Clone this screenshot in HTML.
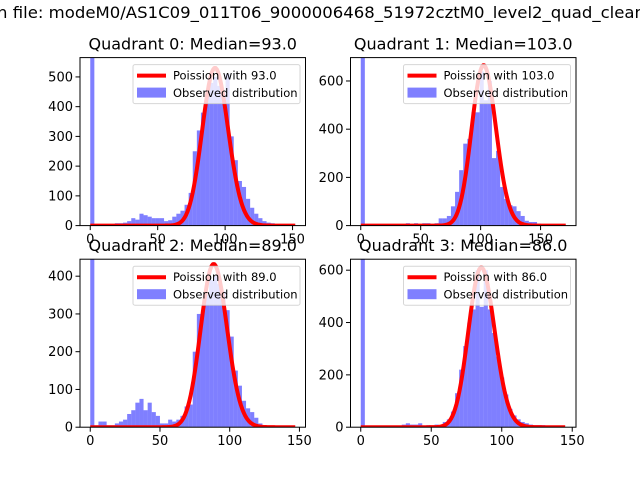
<!DOCTYPE html>
<html><head><meta charset="utf-8"><style>
html,body{margin:0;padding:0;background:#fff;}
svg{display:block;font-family:"DejaVu Sans","Liberation Sans",sans-serif;}
</style></head><body>
<svg id="fig" width="640" height="480" viewBox="0 0 640 480">
<text x="-3" y="18" font-size="16" textLength="648" lengthAdjust="spacingAndGlyphs" fill="#000">n file: modeM0/AS1C09_011T06_9000006468_51972cztM0_level2_quad_clean</text>
</svg>
<script>
// ---- data ----
const titles = ["Quadrant 0: Median=93.0","Quadrant 1: Median=103.0","Quadrant 2: Median=89.0","Quadrant 3: Median=86.0"];
const medians = [93.0, 103.0, 89.0, 86.0];
const maxCounts = [152, 171, 147, 145.4];
const yMaxes = [565, 697, 445, 642];
const poissonPeaks = [530, 665, 432, 610];
const xTicks = [0, 50, 100, 150];
const yTicks0 = [0, 100, 200, 300, 400, 500];
const yTicks1 = [0, 200, 400, 600];
const yTicks2 = [0, 100, 200, 300, 400];
const yTicks3 = [0, 200, 400, 600];
const hist0 = [1200,5,5,5,3,5,8,8,10,15,25,20,40,35,30,25,25,25,15,18,30,40,50,70,110,250,320,380,440,480,500,470,440,510,300,220,150,130,90,60,40,25,15,10,8,5,3,2,1,1];
const hist1 = [1500,1,1,1,1,1,1,1,1,1,2,10,5,10,5,10,10,5,10,30,30,40,80,140,230,340,360,470,470,640,520,600,280,310,160,110,85,80,60,40,20,15,15,8,5,5,3,2,1,1];
const hist2 = [1200,5,15,15,5,5,10,15,20,35,45,65,75,45,65,40,30,10,10,20,15,20,30,55,60,200,300,310,350,390,400,380,360,310,240,150,110,70,50,40,25,10,5,3,2,1,1,1,0,1];
const hist3 = [1500,1,0,1,0,1,0,1,0,1,10,15,10,10,15,2,8,3,10,8,20,30,60,130,220,310,400,450,600,460,600,450,360,270,190,125,70,45,30,20,15,10,8,8,8,3,2,1,1,1];
const hists = [hist0, hist1, hist2, hist3];
const yTickSets = [yTicks0, yTicks1, yTicks2, yTicks3];

const NS = "http://www.w3.org/2000/svg";
const svg = document.getElementById("fig");
function mk(tag, attrs, parent){
  const e = document.createElementNS(NS, tag);
  for (const k in attrs) e.setAttribute(k, attrs[k]);
  (parent||svg).appendChild(e);
  return e;
}
function lgamma(n){
  if (n < 2) return 0;
  let s = 0; for (let i = 2; i <= n; i++) s += Math.log(i); return s;
}
const axesBoxes = [
  {x:80, y:57.6, w:225.5, h:168},
  {x:350.5, y:57.6, w:225.5, h:168},
  {x:80, y:259.2, w:225.5, h:168},
  {x:350.5, y:259.2, w:225.5, h:168}
];

for (let q = 0; q < 4; q++){
  const b = axesBoxes[q];
  const M = maxCounts[q];
  const xmin = -0.05*M, xmax = 1.05*M;
  const ymax = yMaxes[q];
  const sx = v => b.x + (v - xmin)/(xmax - xmin)*b.w;
  const sy = v => b.y + b.h - v/ymax*b.h;

  const g = mk("g", {});
  
  

  const cp = mk("clipPath", {id:"clip"+q}, g);
  mk("rect", {x:b.x, y:b.y, width:b.w, height:b.h}, cp);
  const plot = mk("g", {"clip-path":"url(#clip"+q+")"}, g);

  const hist = hists[q];
  const bw = M / hist.length;
  hist.forEach((v, i) => {
    const x0 = sx(i*bw), x1 = sx((i+1)*bw);
    const r = mk("rect", {x:x0, y:sy(v), width:Math.max(0,x1-x0), height:sy(0)-sy(v), fill:"#0000ff", "fill-opacity":"0.5"}, plot);
    
    
  });

  const lam = medians[q];
  const mode = Math.floor(lam);
  const lpm = mode*Math.log(lam) - lam - lgamma(mode);
  let d = "";
  for (let k = 0; k <= Math.floor(M); k++){
    const val = poissonPeaks[q]*Math.exp(k*Math.log(lam) - lam - lgamma(k) - lpm);
    d += (k ? "L" : "M") + sx(k).toFixed(2) + "," + sy(val).toFixed(2);
  }
  const curve = mk("path", {d:d, fill:"none", stroke:"#ff0000", "stroke-width":"4", "stroke-linejoin":"round"}, plot);
  
  

  const fr = mk("rect", {x:b.x, y:b.y, width:b.w, height:b.h, fill:"none", stroke:"#000", "stroke-width":"1"}, g);
  
  

  xTicks.forEach(t => {
    const x = sx(t);
    mk("line", {x1:x, x2:x, y1:b.y+b.h, y2:b.y+b.h+4.5, stroke:"#000", "stroke-width":"1"}, g);
    const tx = mk("text", {x:x, y:b.y+b.h+18, "font-size":"13", "text-anchor":"middle", fill:"#000"}, g);
    tx.textContent = t;
    
    
  });
  yTickSets[q].forEach(t => {
    const y = sy(t);
    mk("line", {x1:b.x-4.5, x2:b.x, y1:y, y2:y, stroke:"#000", "stroke-width":"1"}, g);
    const tx = mk("text", {x:b.x-7, y:y+4.5, "font-size":"13", "text-anchor":"end", fill:"#000"}, g);
    tx.textContent = t;
    
    
  });

  const lg = mk("g", {}, g);
  
  
  const lw = 167, lh = 39;
  const lx = b.x + b.w - 5.5 - lw, ly = b.y + 7;
  mk("rect", {x:lx, y:ly, width:lw, height:lh, rx:2, fill:"#fff", "fill-opacity":"0.8", stroke:"#cccccc", "stroke-opacity":"0.8"}, lg);
  mk("line", {x1:lx+4, x2:lx+33, y1:ly+11, y2:ly+11, stroke:"#ff0000", "stroke-width":"4"}, lg);
  const t1 = mk("text", {x:lx+40, y:ly+15, "font-size":"11.5", fill:"#000"}, lg);
  t1.textContent = "Poission with " + medians[q].toFixed(1);
  
  
  mk("rect", {x:lx+4, y:ly+23, width:29, height:10, fill:"#0000ff", "fill-opacity":"0.5"}, lg);
  const t2 = mk("text", {x:lx+40, y:ly+32.5, "font-size":"11.5", fill:"#000"}, lg);
  t2.textContent = "Observed distribution";
  
  

  const tt = mk("text", {x:b.x + b.w/2, y:b.y - 8, "font-size":"16", "text-anchor":"middle", fill:"#000"}, g);
  tt.textContent = titles[q];
  
  
}
</script>
</body></html>
